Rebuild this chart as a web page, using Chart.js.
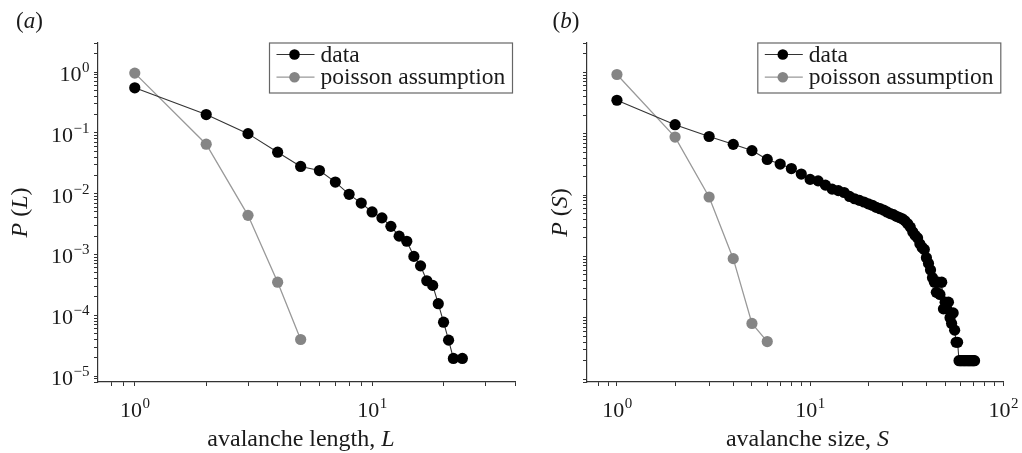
<!DOCTYPE html>
<html>
<head>
<meta charset="utf-8">
<script src="https://cdn.jsdelivr.net/npm/chart.js@4.4.0/dist/chart.umd.min.js"></script>
<style>
  html, body { margin: 0; padding: 0; background: #fff; }
  #wrap { position: relative; width: 1022px; height: 453px; overflow: hidden; }
  canvas { position: absolute; top: 0; }
  #chartA { left: 0; }
  #chartB { left: 530px; }
</style>
</head>
<body>
<div id="wrap">
  <canvas id="chartA" width="530" height="453"></canvas>
  <canvas id="chartB" width="492" height="453"></canvas>
</div>
<script>
// panel (a): avalanche length
const lengthL = [1, 2, 3, 4, 5, 6, 7, 8, 9, 10, 11, 12, 13, 14, 15, 16, 17, 18, 19, 20, 21, 22, 24];
const dataPL = [0.55, 0.20, 0.097, 0.048, 0.028, 0.024, 0.0155, 0.00975, 0.0070, 0.0050, 0.0040, 0.0029,
    0.0020, 0.00165, 0.00093, 0.00065, 0.00037, 0.00031, 0.000155, 0.000077, 0.000039, 0.0000195, 0.0000195];
const poissonL = [1, 2, 3, 4, 5];
const poissonPL = [0.96, 0.065, 0.0044, 0.00035, 0.00004];

// panel (b): avalanche size
const sizeS = [1, 2, 3, 4, 5, 6, 7, 8, 9, 10, 11, 12, 13, 14, 15, 16, 17, 18, 19, 20,
    21, 22, 23, 24, 25, 26, 27, 28, 29, 30, 31, 32, 33, 34, 35, 36, 37, 38, 39, 40,
    41, 42, 43, 44, 45, 46, 47, 48, 49, 50, 51, 52, 53, 54, 55, 56, 57, 58, 59, 60,
    61, 62, 63, 64, 65, 66, 67, 68, 69, 70, 71];
const dataPS = [0.35, 0.14, 0.09, 0.067, 0.053, 0.038, 0.032, 0.027, 0.022, 0.018,
    0.017, 0.0145, 0.0125, 0.0118, 0.0110, 0.0095, 0.0087, 0.0082, 0.0077, 0.0072,
    0.0068, 0.0063, 0.0060, 0.0057, 0.0053, 0.0050, 0.0048, 0.0045, 0.0043, 0.0041,
    0.0038, 0.0034, 0.0030, 0.0025, 0.0022, 0.0020, 0.0016, 0.0014, 0.0013, 0.00095,
    0.00077, 0.0006, 0.00045, 0.00038, 0.00026, 0.00038, 0.00024, 0.00038, 0.00014, 0.00018,
    0.00014, 0.00018, 0.0001, 0.000081, 0.00012, 0.000063, 0.00004, 0.00004, 0.00002, 0.00002,
    0.00002, 0.00002, 0.00002, 0.00002, 0.00002, 0.00002, 0.00002, 0.00002, 0.00002, 0.00002, 0.00002];
const poissonS = [1, 2, 3, 4, 5, 6];
const poissonPS = [0.92, 0.088, 0.0093, 0.00092, 0.000081, 0.000041];

// decade tick labels (exponents of 10)
const xDecadesA = [0, 1];
const yDecadesA = [0, -1, -2, -3, -4, -5];
const xDecadesB = [0, 1, 2];
const yDecadesB = [];

const legendLabels = ['data', 'poisson assumption'];

const SERIF = '"Liberation Serif", "Times New Roman", serif';
const font = (size, italic) => (italic ? 'italic ' : '') + size + 'px ' + SERIF;

// all log ticks 1..9 x 10^k inside [min, max]
function logTicks(min, max) {
    const out = [];
    for (let k = -6; k <= 2; k++) {
        for (let m = 1; m <= 9; m++) {
            const v = m * Math.pow(10, k);
            if (v >= min * 0.999 && v <= max * 1.001) out.push({ value: v, major: m === 1 });
        }
    }
    return out;
}

function drawPow(ctx, e, x, baseline, align) {
    const exp = e < 0 ? '\u2212' + (-e) : String(e);
    ctx.font = font(22);
    const wb = ctx.measureText('10').width;
    ctx.font = font(15);
    const we = ctx.measureText(exp).width;
    const total = wb + we;
    const sx = align === 'center' ? x - total / 2 : x - total;
    ctx.textAlign = 'left';
    ctx.textBaseline = 'alphabetic';
    ctx.font = font(22);
    ctx.fillText('10', sx, baseline);
    ctx.font = font(15);
    ctx.fillText(exp, sx + wb + 0.5, baseline - 9);
}

// parts: [[text, italic], ...]
function drawRich(ctx, parts, x, y, size) {
    let total = 0;
    parts.forEach(p => { ctx.font = font(size, p[1]); total += ctx.measureText(p[0]).width; });
    let cx = x - total / 2;
    ctx.textAlign = 'left';
    parts.forEach(p => {
        ctx.font = font(size, p[1]);
        ctx.fillText(p[0], cx, y);
        cx += ctx.measureText(p[0]).width;
    });
}

const decor = {
    id: 'decor',
    afterDraw(chart, args, o) {
        const ctx = chart.ctx;
        const ca = chart.chartArea;
        const xs = chart.scales.x, ys = chart.scales.y;
        ctx.save();
        ctx.fillStyle = '#1a1a1a';

        o.xDecades.forEach(e => drawPow(ctx, e, xs.getPixelForValue(Math.pow(10, e)), ca.bottom + 35, 'center'));
        o.yDecades.forEach(e => drawPow(ctx, e, ca.left - 9, ys.getPixelForValue(Math.pow(10, e)) + 9, 'right'));

        // axis titles
        ctx.textBaseline = 'alphabetic';
        drawRich(ctx, o.xTitle, o.xTitleX, 446, 24);
        ctx.save();
        ctx.translate(o.yTitleX, (ca.top + ca.bottom) / 2);
        ctx.rotate(-Math.PI / 2);
        drawRich(ctx, o.yTitle, 0, 8, 24);
        ctx.restore();

        // panel label
        drawRich(ctx, o.panel, o.panelX, 28, 23);

        // legend box
        const w = 243, h = 50;
        const lx = ca.right - 2.5 - w, ly = ca.top;
        ctx.strokeStyle = '#666';
        ctx.lineWidth = 1.2;
        ctx.strokeRect(lx, ly, w, h);
        chart.data.datasets.forEach((ds, i) => {
            const ry = ly + 11.5 + i * 22.7;
            ctx.strokeStyle = ds.borderColor;
            ctx.lineWidth = 1.2;
            ctx.beginPath();
            ctx.moveTo(lx + 7, ry);
            ctx.lineTo(lx + 45, ry);
            ctx.stroke();
            ctx.fillStyle = ds.pointBackgroundColor;
            ctx.beginPath();
            ctx.arc(lx + 25, ry, 5.3, 0, Math.PI * 2);
            ctx.fill();
            ctx.fillStyle = '#1a1a1a';
            ctx.font = font(23.5);
            ctx.textAlign = 'left';
            ctx.fillText(legendLabels[i], lx + 51, ry + 7);
        });
        ctx.restore();
    }
};

function makeChart(id, cfg) {
    const axisLine = { display: true, color: '#333', width: 1.2 };
    const grid = { drawOnChartArea: false, drawTicks: true, tickLength: 4, color: '#333', lineWidth: 1 };
    return new Chart(document.getElementById(id), {
        type: 'line',
        data: {
            datasets: [
                {
                    label: legendLabels[0],
                    data: cfg.dataX.map((x, i) => ({ x: x, y: cfg.dataY[i] })),
                    borderColor: '#333',
                    borderWidth: 1.1,
                    pointBackgroundColor: '#000',
                    pointBorderWidth: 0,
                    pointRadius: 5.6,
                    tension: 0
                },
                {
                    label: legendLabels[1],
                    data: cfg.poisX.map((x, i) => ({ x: x, y: cfg.poisY[i] })),
                    borderColor: '#999',
                    borderWidth: 1.3,
                    pointBackgroundColor: '#858585',
                    pointBorderWidth: 0,
                    pointRadius: 5.6,
                    tension: 0
                }
            ]
        },
        options: {
            responsive: false,
            animation: false,
            layout: { padding: { left: 0, top: 43, right: cfg.padRight, bottom: 0 } },
            plugins: {
                legend: { display: false },
                tooltip: { enabled: false },
                decor: cfg.decor
            },
            scales: {
                x: {
                    type: 'logarithmic',
                    min: cfg.xMin, max: cfg.xMax,
                    border: axisLine,
                    grid: grid,
                    ticks: { display: false, autoSkip: false },
                    afterBuildTicks: s => { s.ticks = logTicks(cfg.xMin, cfg.xMax); },
                    afterFit: s => { s.height = 71; }
                },
                y: {
                    type: 'logarithmic',
                    min: cfg.yMin, max: cfg.yMax,
                    border: axisLine,
                    grid: grid,
                    ticks: { display: false, autoSkip: false },
                    afterBuildTicks: s => { s.ticks = logTicks(cfg.yMin, cfg.yMax); },
                    afterFit: s => { s.width = cfg.yWidth; }
                }
            }
        },
        plugins: [decor]
    });
}

makeChart('chartA', {
    dataX: lengthL, dataY: dataPL, poisX: poissonL, poisY: poissonPL,
    xMin: 0.71, xMax: 40, yMin: 8e-6, yMax: 3,
    yWidth: 98, padRight: 15,
    decor: {
        xDecades: xDecadesA, yDecades: yDecadesA,
        xTitle: [['avalanche length, ', false], ['L', true]], xTitleX: 301,
        yTitle: [['P', true], [' (', false], ['L', true], [')', false]], yTitleX: 19,
        panel: [['(', false], ['a', true], [')', false]], panelX: 29.5
    }
});

makeChart('chartB', {
    dataX: sizeS, dataY: dataPS, poisX: poissonS, poisY: poissonPS,
    xMin: 0.707, xMax: 100, yMin: 9e-6, yMax: 3,
    yWidth: 57, padRight: 18.7,
    decor: {
        xDecades: xDecadesB, yDecades: yDecadesB,
        xTitle: [['avalanche size, ', false], ['S', true]], xTitleX: 277.5,
        yTitle: [['P', true], [' (', false], ['S', true], [')', false]], yTitleX: 29,
        panel: [['(', false], ['b', true], [')', false]], panelX: 36
    }
});
</script>
</body>
</html>
